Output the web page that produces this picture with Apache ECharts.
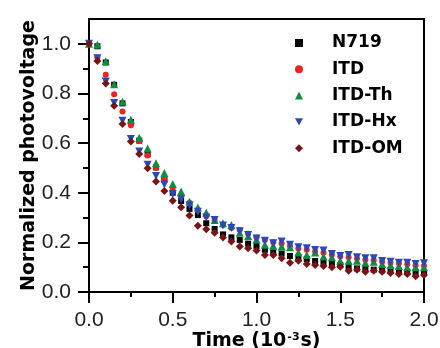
<!DOCTYPE html>
<html><head><meta charset="utf-8">
<script src="https://cdn.jsdelivr.net/npm/echarts@6/dist/echarts.min.js"></script>
<style>html,body{margin:0;padding:0;background:#fff}#c{width:440px;height:348px}</style>
</head><body><div id="c"></div>
<script>
const times = [0,0.05,0.1,0.15,0.2,0.25,0.3,0.35,0.4,0.45,0.5,0.55,0.6,0.65,0.7,0.75,0.8,0.85,0.9,0.95,1.0,1.05,1.1,1.15,1.2,1.25,1.3,1.35,1.4,1.45,1.5,1.55,1.6,1.65,1.7,1.75,1.8,1.85,1.9,1.95,2.0];
const seriesNames = ['N719','ITD','ITD-Th','ITD-Hx','ITD-OM'];
const n719 = [1.0,0.99,0.925,0.835,0.76,0.685,0.61,0.555,0.502,0.452,0.40,0.367,0.335,0.31,0.277,0.254,0.232,0.22,0.21,0.195,0.185,0.17,0.16,0.155,0.145,0.14,0.133,0.125,0.12,0.115,0.108,0.1,0.095,0.095,0.09,0.088,0.085,0.083,0.08,0.078,0.078];
const itd = [1.0,0.945,0.875,0.797,0.727,0.672,0.609,0.55,0.50,0.455,0.42,0.39,0.36,0.33,0.305,0.29,0.27,0.258,0.25,0.235,0.22,0.21,0.2,0.195,0.185,0.175,0.17,0.163,0.158,0.15,0.143,0.14,0.135,0.13,0.128,0.122,0.118,0.115,0.112,0.108,0.106];
const itdTh = [1.0,0.996,0.93,0.837,0.767,0.694,0.622,0.578,0.519,0.479,0.435,0.405,0.364,0.34,0.32,0.29,0.277,0.27,0.239,0.226,0.212,0.19,0.186,0.183,0.18,0.159,0.149,0.159,0.143,0.14,0.126,0.126,0.126,0.118,0.122,0.113,0.109,0.105,0.1,0.1,0.1];
const itdHx = [1.0,0.942,0.848,0.762,0.69,0.616,0.566,0.513,0.467,0.433,0.394,0.374,0.35,0.323,0.3,0.29,0.268,0.258,0.245,0.23,0.216,0.207,0.196,0.203,0.19,0.18,0.176,0.169,0.167,0.153,0.145,0.149,0.14,0.136,0.136,0.125,0.122,0.118,0.118,0.113,0.116];
const itdOM = [1.0,0.931,0.84,0.75,0.677,0.606,0.556,0.499,0.445,0.407,0.368,0.341,0.308,0.267,0.253,0.239,0.22,0.203,0.183,0.176,0.167,0.149,0.149,0.136,0.118,0.126,0.113,0.109,0.105,0.1,0.102,0.086,0.09,0.082,0.086,0.082,0.077,0.073,0.073,0.063,0.069];
const yMajor = [0,0.2,0.4,0.6,0.8,1.0];
const yMinor = [0.1,0.3,0.5,0.7,0.9];

const values = [n719, itd, itdTh, itdHx, itdOM];
const colors = ['#000000','#ee2222','#0f8c3f','#2a48b8','#7a1414'];
const symbols = ['rect','circle','triangle','triangle','diamond'];
const sizes = [6,6,8,8,8];
const rotates = [0,0,0,180,0];
const downTri = 'path://M0,0 L10,0 L5,9 Z';

const chart = echarts.init(document.getElementById('c'));
chart.setOption({
  animation:false,
  grid:{left:89,right:16,top:19,bottom:56,outerBoundsMode:'none',containLabel:false,show:true,borderColor:'#000',borderWidth:2,backgroundColor:'transparent'},
  legend:{
    orient:'vertical',left:295,top:33,padding:0,itemWidth:8,itemHeight:8,itemGap:6.3,
    textStyle:{fontFamily:'DejaVu Sans',fontWeight:'bold',fontSize:17,lineHeight:20,color:'#000',padding:[0,0,0,24]},
    data:seriesNames.map((nm,k)=> rotates[k] ? {name:nm, icon:downTri} : {name:nm})
  },
  xAxis:{
    type:'value',min:0,max:2,interval:0.5,
    name:'{a|Time (10}{b|-3}{a|s)}',nameLocation:'middle',nameGap:40,nameMoveOverlap:false,
    nameTextStyle:{rich:{a:{fontFamily:'DejaVu Sans',fontWeight:'bold',fontSize:19,color:'#000'},b:{fontFamily:'DejaVu Sans',fontWeight:'bold',fontSize:11,color:'#000',verticalAlign:'top',padding:[0,1,0,1]}}},
    axisLine:{lineStyle:{color:'#000',width:2}},
    axisTick:{inside:false,length:11,lineStyle:{color:'#000',width:2}},
    minorTick:{show:true,splitNumber:2,length:5,lineStyle:{color:'#000',width:2}},
    splitLine:{show:false},
    axisLabel:{margin:18,fontFamily:'Liberation Sans',fontSize:21,color:'#222',formatter:v=>v.toFixed(1)}
  },
  yAxis:[{
    type:'value',min:0,max:1.1,
    name:'Normalized photovoltage',nameLocation:'middle',nameGap:50,nameMoveOverlap:false,
    nameTextStyle:{fontFamily:'DejaVu Sans',fontWeight:'bold',fontSize:19,color:'#000'},
    axisLine:{show:true,lineStyle:{color:'#000',width:2}},
    axisTick:{show:true,length:11,customValues:yMajor,lineStyle:{color:'#000',width:2}},
    splitLine:{show:false},
    axisLabel:{margin:18,customValues:yMajor,fontFamily:'Liberation Sans',fontSize:21,color:'#222',formatter:v=>v.toFixed(1)}
  },{
    type:'value',min:0,max:1.1,position:'left',
    axisLine:{show:false},
    axisTick:{show:true,length:6,customValues:yMinor,lineStyle:{color:'#000',width:2}},
    axisLabel:{show:false},splitLine:{show:false}
  }],
  series: seriesNames.map((nm,k)=>({
    name:nm,type:'scatter',yAxisIndex:0,
    symbol:symbols[k],symbolSize:sizes[k],symbolRotate:rotates[k],
    itemStyle:{color:colors[k],opacity:1},
    data:times.map((t,i)=>[t,values[k][i]])
  }))
});
</script></body></html>
